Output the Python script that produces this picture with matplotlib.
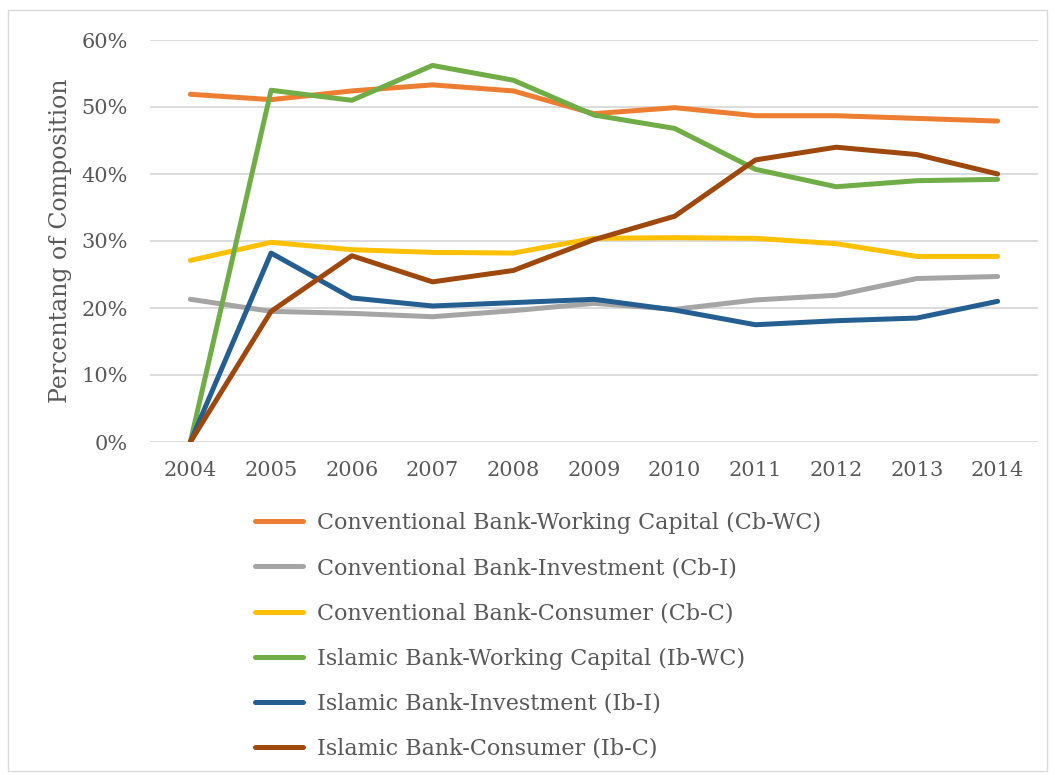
import matplotlib
matplotlib.use("Agg")
import matplotlib.pyplot as plt
from matplotlib.patches import Rectangle
from matplotlib.ticker import PercentFormatter

years = ["2004", "2005", "2006", "2007", "2008", "2009", "2010", "2011", "2012", "2013", "2014"]

cb_wc = [51.9, 51.1, 52.4, 53.3, 52.4, 49.0, 49.9, 48.7, 48.7, 48.3, 47.9]
cb_i = [21.3, 19.5, 19.2, 18.7, 19.6, 20.7, 19.8, 21.2, 21.9, 24.4, 24.7]
cb_c = [27.1, 29.8, 28.7, 28.3, 28.2, 30.4, 30.5, 30.4, 29.6, 27.7, 27.7]
ib_wc = [0.0, 52.5, 51.0, 56.2, 54.0, 48.8, 46.8, 40.7, 38.1, 39.0, 39.2]
ib_i = [0.0, 28.2, 21.5, 20.3, 20.8, 21.3, 19.7, 17.5, 18.1, 18.5, 21.0]
ib_c = [0.0, 19.5, 27.8, 23.9, 25.6, 30.2, 33.7, 42.1, 44.0, 42.9, 40.0]

labels = [
    "Conventional Bank-Working Capital (Cb-WC)",
    "Conventional Bank-Investment (Cb-I)",
    "Conventional Bank-Consumer (Cb-C)",
    "Islamic Bank-Working Capital (Ib-WC)",
    "Islamic Bank-Investment (Ib-I)",
    "Islamic Bank-Consumer (Ib-C)",
]
colors = ["#ED7D31", "#A5A5A5", "#FFC000", "#70AD47", "#255E91", "#9E480E"]

plt.rcParams["font.family"] = ["DejaVu Serif"]
text_color = "#595959"

fig = plt.figure(figsize=(10.55, 7.75), dpi=100)
# plot area in pixels: left 150, right 1038, top 40, bottom 442
W, H = 1055, 775
ax = fig.add_axes([150 / W, 1 - 442 / H, (1038 - 150) / W, (442 - 40) / H])

x = list(range(len(years)))
for series, lab, col in zip([cb_wc, cb_i, cb_c, ib_wc, ib_i, ib_c], labels, colors):
    ax.plot(x, series, color=col, lw=3.6, label=lab,
            solid_capstyle="round", solid_joinstyle="round")

ax.set_xlim(-0.5, len(years) - 0.5)
ax.set_ylim(0, 60)
ax.set_yticks(range(0, 61, 10))
ax.yaxis.set_major_formatter(PercentFormatter(decimals=0))
ax.set_xticks(x)
ax.set_xticklabels(years)
ax.grid(axis="y", color="#D9D9D9", lw=1.3)
ax.set_axisbelow(True)
for s in ax.spines.values():
    s.set_visible(False)
ax.tick_params(length=0, labelsize=15, colors=text_color)
ax.tick_params(axis="x", pad=14)
ax.tick_params(axis="y", pad=16)
ax.set_ylabel("Percentang of Composition", fontsize=17, color=text_color)
ax.yaxis.set_label_coords(-78 / 888, 0.5)

leg = fig.legend(loc="upper left", bbox_to_anchor=(255 / W, 1 - 512 / H),
                 frameon=False, fontsize=16, handlelength=2.15, handletextpad=0.65,
                 labelspacing=1.04, borderaxespad=0, borderpad=0)
for t in leg.get_texts():
    t.set_color(text_color)

# outer chart border
fig.patches.append(Rectangle((8 / W, 4 / H), 1 - 16 / W, 1 - 14 / H,
                             transform=fig.transFigure, fill=False,
                             edgecolor="#D9D9D9", lw=1))

fig.savefig("out.png", dpi=100)
